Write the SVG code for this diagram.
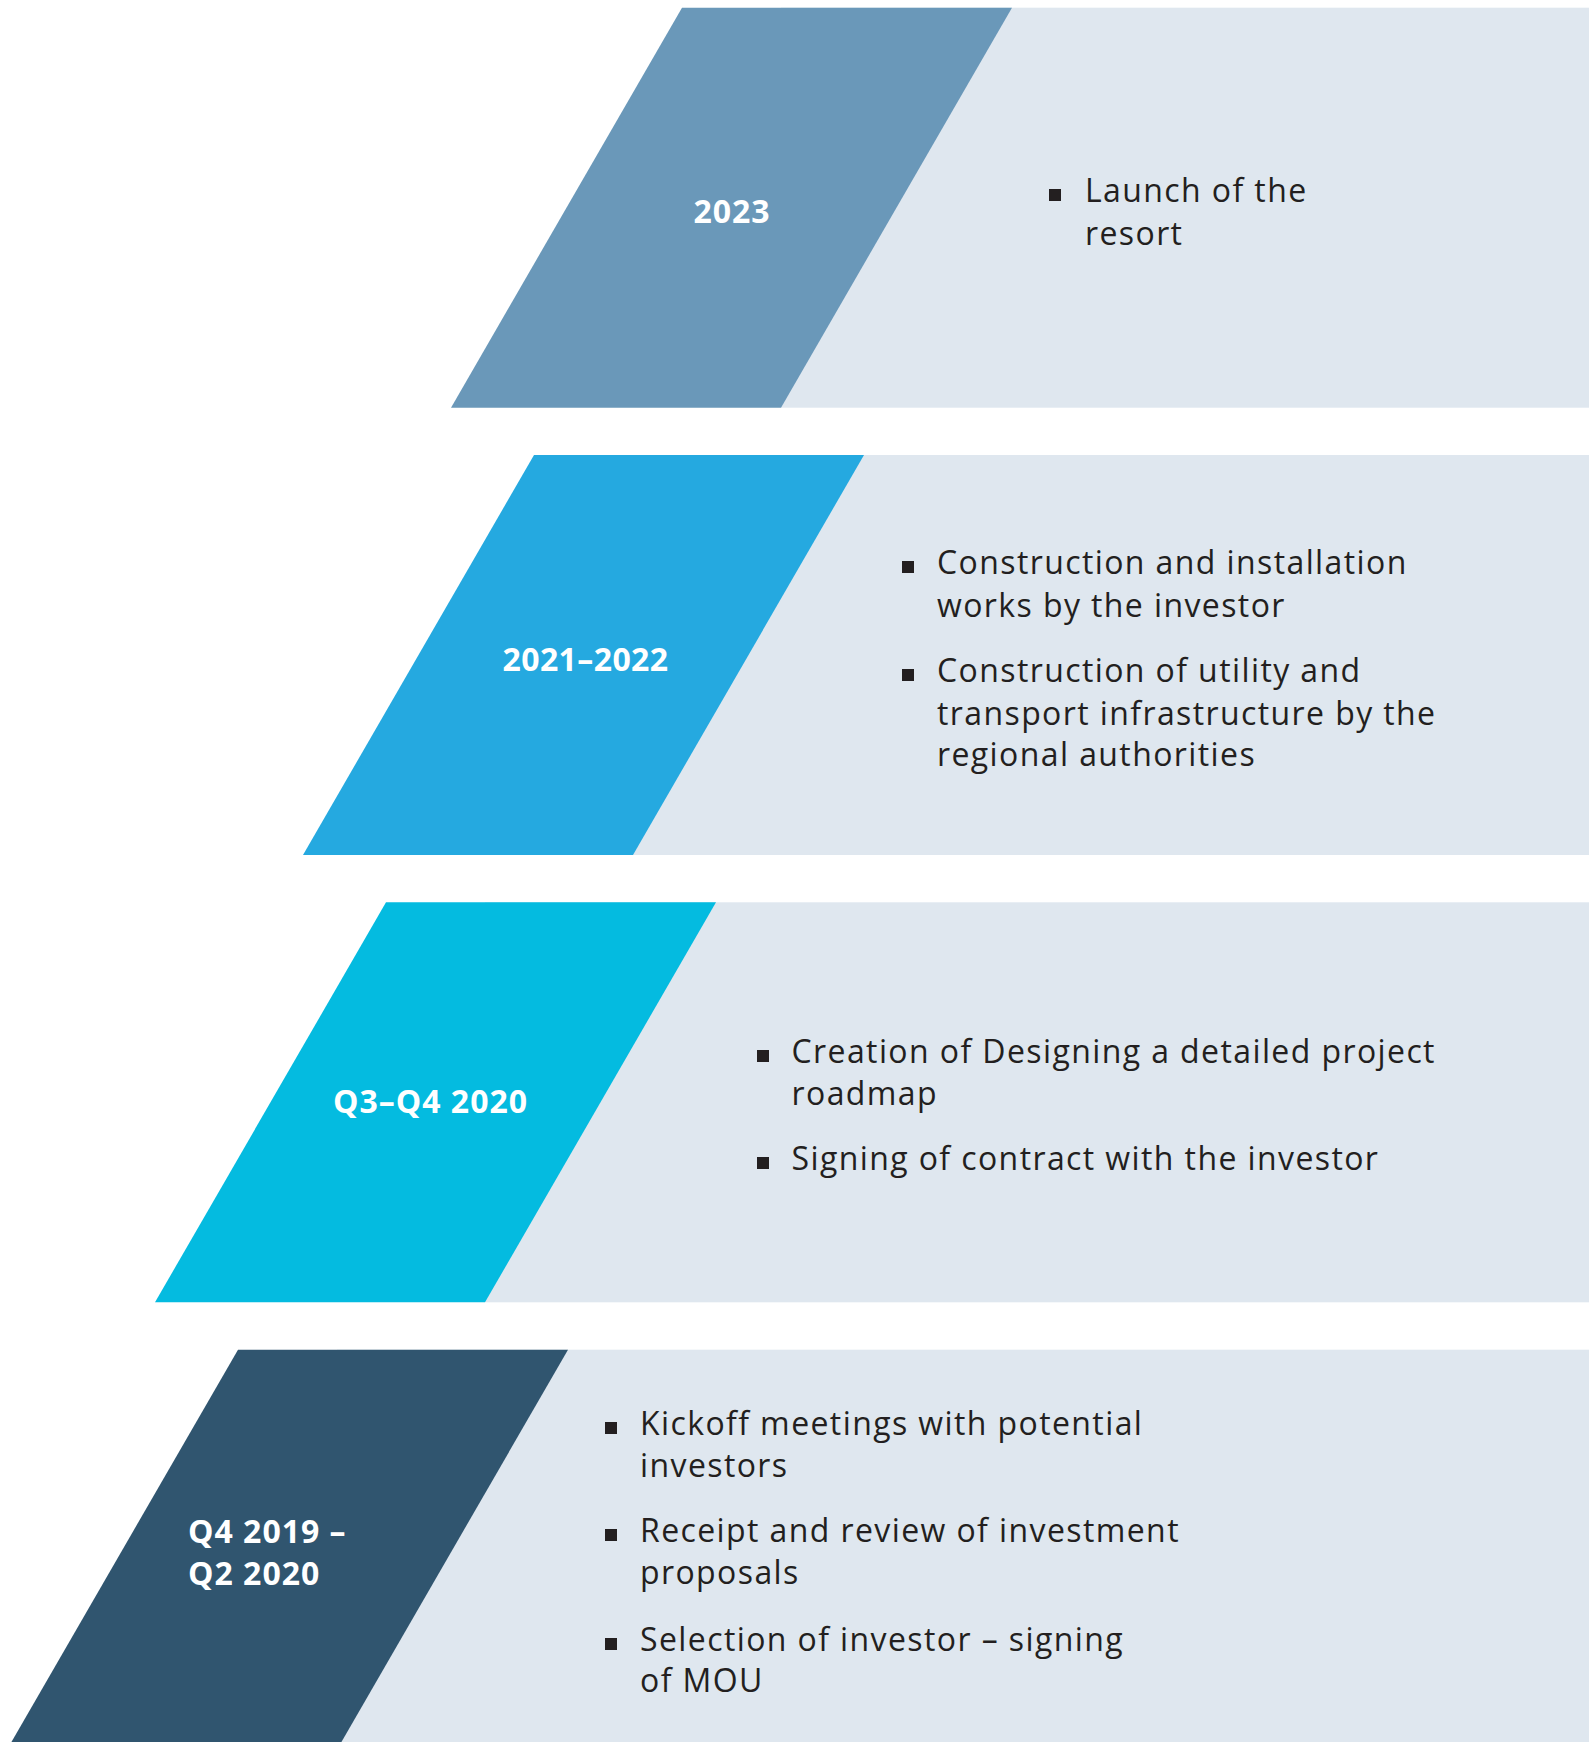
<svg xmlns="http://www.w3.org/2000/svg" width="1589" height="1742" viewBox="0 0 1589 1742">
<style>
.bg{fill:#dfe7ef}
.lbl{font-family:"Open Sans","Liberation Sans",sans-serif;font-weight:700;font-size:32px;letter-spacing:1px;fill:#ffffff}
.txt{font-family:"Open Sans","Liberation Sans",sans-serif;font-size:32px;letter-spacing:1.4px;fill:#231f20}
.bul{fill:#231f20}
</style>
<rect width="1589" height="1742" fill="#ffffff"/>
<g id="stage-2023">
<rect class="bg" x="781" y="7.7" width="808" height="400"/>
<polygon points="682,7.7 1012,7.7 781,407.7 451,407.7" fill="#6a98b9"/>
<text class="lbl" x="732" y="223" text-anchor="middle">2023</text>
<rect class="bul" x="1049" y="189" width="12" height="12"/>
<text class="txt" x="1085" y="202">Launch of the</text>
<text class="txt" x="1085" y="244.5">resort</text>
</g>
<g id="stage-2021-2022">
<rect class="bg" x="633" y="455" width="956" height="400"/>
<polygon points="534,455 864,455 633,855 303,855" fill="#25a9e0"/>
<text class="lbl" x="585.5" y="671" text-anchor="middle" style="letter-spacing:0.4px">2021–2022</text>
<rect class="bul" x="902" y="561" width="12" height="12"/>
<text class="txt" x="937" y="574">Construction and installation</text>
<text class="txt" x="937" y="617">works by the investor</text>
<rect class="bul" x="902" y="669" width="12" height="12"/>
<text class="txt" x="937" y="682">Construction of utility and</text>
<text class="txt" x="937" y="724.5">transport infrastructure by the</text>
<text class="txt" x="937" y="766">regional authorities</text>
</g>
<g id="stage-q3-q4-2020">
<rect class="bg" x="485" y="902.3" width="1104" height="400"/>
<polygon points="386,902.3 716,902.3 485,1302.3 155,1302.3" fill="#04bbe0"/>
<text class="lbl" x="430.5" y="1113" text-anchor="middle">Q3–Q4 2020</text>
<rect class="bul" x="757" y="1050" width="12" height="12"/>
<text class="txt" x="791.5" y="1063">Creation of Designing a detailed project</text>
<text class="txt" x="791.5" y="1105">roadmap</text>
<rect class="bul" x="757" y="1157" width="12" height="12"/>
<text class="txt" x="791.5" y="1170">Signing of contract with the investor</text>
</g>
<g id="stage-q4-2019-q2-2020">
<rect class="bg" x="337" y="1349.7" width="1252" height="400"/>
<polygon points="238,1349.7 568,1349.7 337,1749.7 7,1749.7" fill="#30556f"/>
<text class="lbl" x="188" y="1543">Q4 2019 –</text>
<text class="lbl" x="188" y="1585">Q2 2020</text>
<rect class="bul" x="605" y="1422" width="12" height="12"/>
<text class="txt" x="640" y="1435">Kickoff meetings with potential</text>
<text class="txt" x="640" y="1477">investors</text>
<rect class="bul" x="605" y="1529" width="12" height="12"/>
<text class="txt" x="640" y="1542">Receipt and review of investment</text>
<text class="txt" x="640" y="1584">proposals</text>
<rect class="bul" x="605" y="1638" width="12" height="12"/>
<text class="txt" x="640" y="1651">Selection of investor – signing</text>
<text class="txt" x="640" y="1692">of MOU</text>
</g>
<g id="connectors"/>
</svg>
